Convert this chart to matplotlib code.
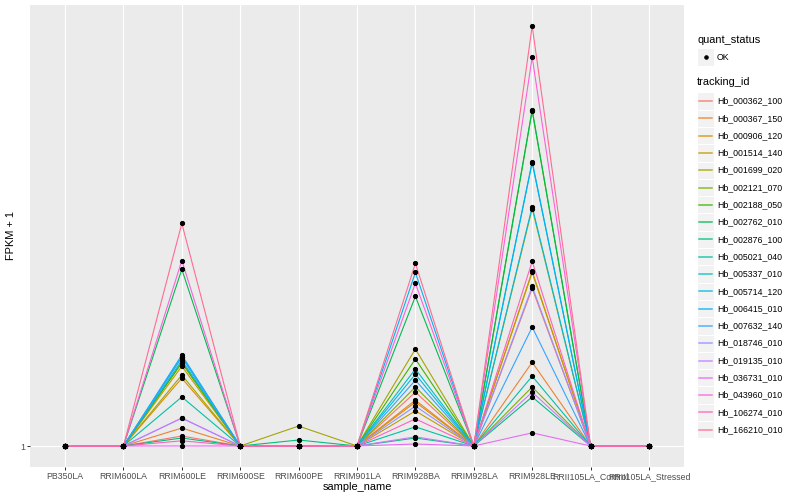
import numpy as np
import matplotlib
matplotlib.use("Agg")
from matplotlib import pyplot as plt
from matplotlib.lines import Line2D
from matplotlib.patches import Rectangle

plt.rcParams["font.family"] = ["Liberation Sans", "DejaVu Sans"]

samples = ["PB350LA", "RRIM600LA", "RRIM600LE", "RRIM600SE", "RRIM600PE",
           "RRIM901LA", "RRIM928BA", "RRIM928LA", "RRIM928LE",
           "RRII105LA_Control", "RRII105LA_Stressed"]

tracking_ids = ["Hb_000362_100", "Hb_000367_150", "Hb_000906_120", "Hb_001514_140",
                "Hb_001699_020", "Hb_002121_070", "Hb_002188_050", "Hb_002762_010",
                "Hb_002876_100", "Hb_005021_040", "Hb_005337_010", "Hb_005714_120",
                "Hb_006415_010", "Hb_007632_140", "Hb_018746_010", "Hb_019135_010",
                "Hb_036731_010", "Hb_043960_010", "Hb_106274_010", "Hb_166210_010"]

colors = ["#F8766D", "#EA8331", "#D89000", "#C09B00", "#A3A500", "#7CAE00",
          "#39B600", "#00BB4E", "#00BF7D", "#00C1A3", "#00BFC4", "#00BAE0",
          "#00B0F6", "#35A2FF", "#9590FF", "#C77CFF", "#E76BF3", "#FA62DB",
          "#FF62BC", "#FF6C91"]

# FPKM + 1 per tracking_id at the samples that differ from 1
rrim600le = [3.5, 5.5, 18.0, 21.0, 18.8, 21.8, 22.0, 45.3, 3.0, 13.3,
             23.3, 22.5, 23.8, 23.3, 8.0, 8.0, 1.0, 47.5, 2.3, 56.8]
rrim600pe = [1.0, 1.0, 1.0, 1.0, 6.0, 1.0, 1.0, 1.0, 2.5, 1.0,
             1.0, 1.0, 1.0, 1.0, 1.0, 1.0, 1.0, 1.0, 1.0, 1.0]
rrim928ba = [14.5, 12.5, 12.0, 9.8, 25.3, 15.8, 22.8, 38.5, 3.0, 5.8,
             20.3, 19.0, 44.5, 17.5, 11.0, 3.3, 1.5, 41.8, 7.8, 46.8]
rrim928le = [40.5, 22.0, 44.8, 44.5, 60.5, 15.8, 85.0, 85.3, 13.3, 18.5,
             72.0, 61.0, 72.3, 30.8, 41.0, 14.5, 4.3, 98.5, 47.3, 106.3]

ones = [1.0] * len(tracking_ids)
fpkm = np.array([ones, ones, rrim600le, ones, rrim600pe, ones,
                 rrim928ba, ones, rrim928le, ones, ones]).T

W, H = 800, 500
fig = plt.figure(figsize=(W / 72, H / 72), dpi=72)
ax = fig.add_axes([30 / W, 1 - 467 / H, (684 - 30) / W, (467 - 5) / H])
ax.set_facecolor("#EBEBEB")

x = np.arange(len(samples))
for i, tid in enumerate(tracking_ids):
    ax.plot(x, fpkm[i], color=colors[i], lw=1.1, zorder=2)
for i, tid in enumerate(tracking_ids):
    ax.plot(x, fpkm[i], ls="none", marker="o", ms=4.2, color="black", zorder=3)

ymin, ymax = fpkm.min(), fpkm.max()
pad = (ymax - ymin) * 0.05
ax.set_ylim(ymin - pad, ymax + pad)
ax.set_xlim(-0.6, len(samples) - 0.4)
ax.set_xticks(x)
ax.set_xticklabels(samples)
ax.set_yticks([1])
ax.set_yticklabels(["1"])
ax.grid(True, color="white", lw=1.1)
ax.set_axisbelow(True)
for s in ax.spines.values():
    s.set_visible(False)
ax.tick_params(colors="#333333", length=3, width=1, labelsize=8.8,
               labelcolor="#4D4D4D", pad=2)
ax.set_xlabel("sample_name", fontsize=11, labelpad=1)
ax.set_ylabel("FPKM + 1", fontsize=11, labelpad=4)

# legends
def fx(px):
    return px / W

def fy(py):
    return 1 - py / H

key_w, key_h = 17.3, 17.3
lx = 697
fig.text(fx(lx), fy(40), "quant_status", fontsize=11, va="center", ha="left")
fig.add_artist(Rectangle((fx(lx), fy(57 + key_h / 2)), key_w / W, key_h / H,
                         transform=fig.transFigure, facecolor="#F2F2F2",
                         edgecolor="white", lw=1))
fig.add_artist(Line2D([fx(lx + key_w / 2)], [fy(57)], transform=fig.transFigure,
                      marker="o", ms=3.5, color="black", ls="none"))
fig.text(fx(717), fy(57), "OK", fontsize=8.8, va="center", ha="left")

fig.text(fx(lx), fy(82), "tracking_id", fontsize=11, va="center", ha="left")
for i, tid in enumerate(tracking_ids):
    yc = 101 + i * key_h
    fig.add_artist(Rectangle((fx(lx), fy(yc + key_h / 2)), key_w / W, key_h / H,
                             transform=fig.transFigure, facecolor="#F2F2F2",
                             edgecolor="white", lw=1))
    fig.add_artist(Line2D([fx(lx + 2), fx(lx + key_w - 2)], [fy(yc), fy(yc)],
                          transform=fig.transFigure, color=colors[i], lw=1.5,
                          alpha=0.85))
    fig.text(fx(717), fy(yc), tid, fontsize=8.8, va="center", ha="left")

fig.savefig("out.png", dpi=72)
